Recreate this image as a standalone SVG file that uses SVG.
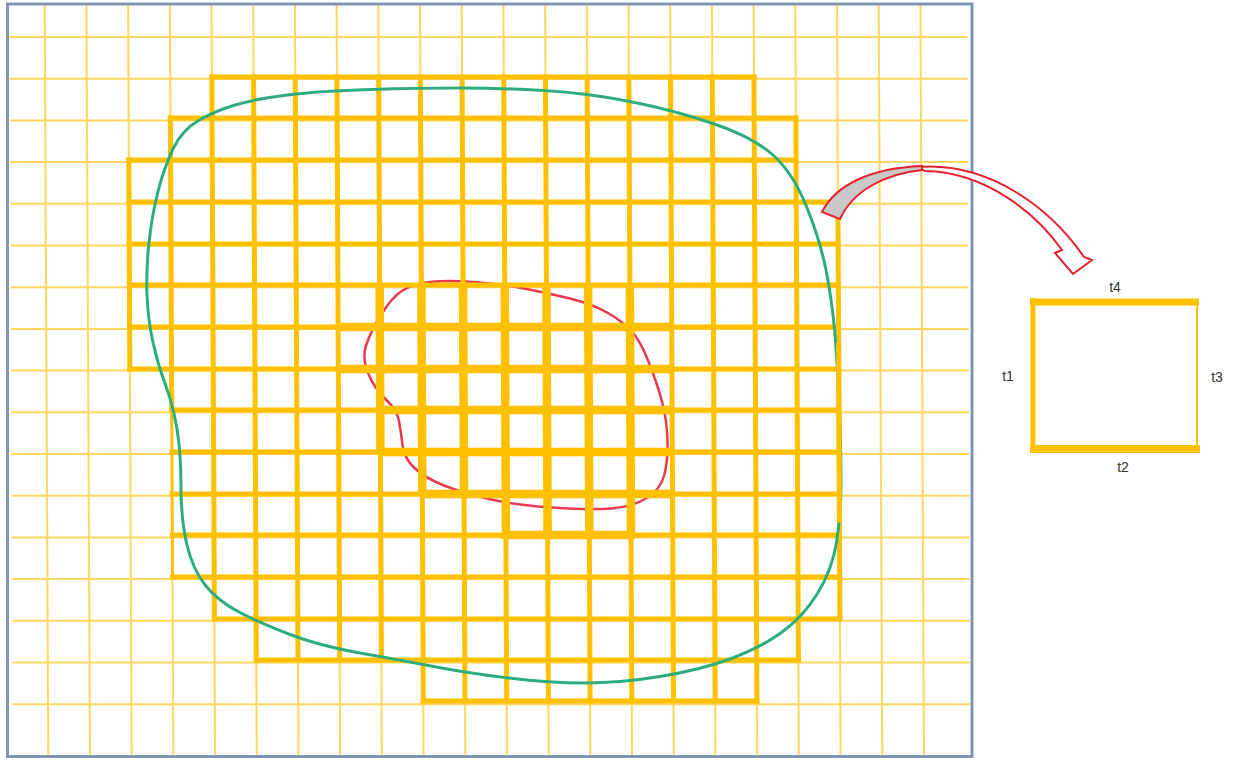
<svg xmlns="http://www.w3.org/2000/svg" width="1238" height="761" viewBox="0 0 1238 761">
<style>
.thin{stroke:#FFD75E;stroke-width:2;fill:none}
.thick{stroke:#FFC000;stroke-width:5;fill:none;stroke-linecap:square}
.med{stroke:#FFC000;stroke-width:3;fill:none}
.xthick{stroke:#FFC000;stroke-width:8.5;fill:none;stroke-linecap:butt}
.lbl{font-family:"Liberation Sans",Arial,sans-serif;font-size:14px;fill:#333333}
</style>
<rect x="0" y="0" width="1238" height="761" fill="#FFFFFF"/>
<g id="thin-grid" transform="translate(-1.8,0) skewX(0.27)">
<path class="thin" d="M46.5,5V755 M88.2,5V755 M129.9,5V755 M171.6,5V755 M213.3,5V755 M255,5V755 M296.7,5V755 M338.4,5V755 M380.1,5V755 M421.8,5V755 M463.5,5V755 M505.2,5V755 M546.9,5V755 M588.6,5V755 M630.3,5V755 M672,5V755 M713.7,5V755 M755.4,5V755 M797.1,5V755 M838.8,5V755 M880.5,5V755 M922.2,5V755"/>
<path class="thin" d="M11,37H969 M11,78.7H969 M11,120.4H969 M11,162.1H969 M11,203.8H969 M11,245.5H969 M11,287.2H969 M11,328.9H969 M11,370.6H969 M11,412.3H969 M11,454H969 M11,495.7H969 M11,537.4H969 M11,579.1H969 M11,620.8H969 M11,662.5H969 M11,704.2H969"/>
</g>
<g id="inner-boundary">
<path d="M473.5,282 Q500,284 524,288.5 Q548,293 570,298.5 Q592,304 607,312.5 Q622,321 631,330.5 Q640,340 648.5,361.5 Q657,383 662,401.5 Q667,420 667.5,441 Q668,462 664,476 Q660,490 646,498.5 Q632,507 611,508.5 Q590,510 552.5,507.5 Q515,505 489,499 Q463,493 444,485.5 Q425,478 414.5,468 Q404,458 402.5,445 Q401,432 399,421 Q397,410 385.5,399 Q374,388 368,373 Q362,358 366,345.5 Q370,333 381,315 Q392,297 402.5,290.5 Q413,284 430,282 Q447,280 473.5,282 Z" fill="none" stroke="#E83A4E" stroke-width="2.5"/>
</g>
<g id="thick-grid" transform="translate(-1.8,0) skewX(0.27)">
<path class="thick" d="M129.9,160V369 M171.6,118V410 M213.3,77V619 M255,77V660 M296.7,77V660 M338.4,77V660 M380.1,77V660 M421.8,77V701 M463.5,77V701 M505.2,77V701 M546.9,77V701 M588.6,77V701 M630.3,77V701 M672,77V701 M713.7,77V701 M755.4,77V701 M797.1,118V660 M838.8,202V619"/>
<path class="med" d="M171.6,410V577"/>
<path class="thick" d="M213.3,77H755.4 M171.6,118H797.1 M129.9,160H797.1 M129.9,202H838.8 M129.9,244H838.8 M129.9,285H838.8 M129.9,327H838.8 M129.9,369H838.8 M171.6,410H838.8 M171.6,452H838.8 M171.6,494H838.8 M171.6,535H838.8 M171.6,577H838.8 M213.3,619H838.8 M255,660H797.1 M421.8,701H755.4"/>
<path class="xthick" d="M340,327H672 M340,369H672 M380.1,410H672 M380.1,452H672 M421.8,494H672 M505.2,535H632"/>
<path class="xthick" d="M380.1,283V454 M421.8,283V496 M463.5,283V496 M505.2,283V539 M546.9,283V539 M588.6,283V539 M630.3,283V539"/>
</g>
<g id="outer-boundary">
<path d="M460,88 Q500,88 543.5,90.5 Q587,93 630,101.5 Q673,110 713,123.5 Q753,137 773,155 Q793,173 806.5,206.5 Q820,240 826,270 Q832,300 835,335 Q838,370 839.5,410 Q841,450 841,482.5 Q841,515 836.5,542.5 Q832,570 817.5,593.5 Q803,617 781.5,632.5 Q760,648 730,659 Q700,670 660,676.5 Q620,683 585,683 Q550,683 508.5,678 Q467,673 433.5,666.5 Q400,660 360,653 Q320,646 290,634.5 Q260,623 239,612 Q218,601 205.5,585.5 Q193,570 187,545 Q181,520 181,486.5 Q181,453 177,429 Q173,405 165.5,385 Q158,365 153,342.5 Q148,320 147,295 Q146,270 149,242.5 Q152,215 158,191.5 Q164,168 173,149 Q182,130 198.5,120.5 Q215,111 235,105 Q255,99 287.5,95 Q320,91 370,89.5 Q420,88 460,88 Z" fill="none" stroke="#2EAD7C" stroke-width="3"/>
</g>
<g id="thick-overlay" transform="translate(-1.8,0) skewX(0.27)">
<path class="thick" d="M838.8,345V520"/>
</g>
<g id="frame">
<rect x="7.5" y="4" width="964.5" height="752.5" fill="none" stroke="#7F95B5" stroke-width="3"/>
</g>
<g id="connectors">
<path d="M918,167 C990,162 1050,208 1084,257 L1092,260 L1073,274 L1055,253 L1062,250 C1035,212 985,172 925,171 Z" fill="#FFFFFF" stroke="#E8202A" stroke-width="2" stroke-linejoin="miter"/>
<path d="M822,212 C836,184 872,168 922,166 L922,170 C884,174 853,191 840,219 Z" fill="#C8C8C8" stroke="#E8202A" stroke-width="2"/>
</g>
<g id="cell-node">
<path d="M1030,302H1199" stroke="#FFC000" stroke-width="7"/>
<path d="M1030,449H1200" stroke="#FFC000" stroke-width="8"/>
<path d="M1033,298V453" stroke="#FFC000" stroke-width="5"/>
<path d="M1197,300V450" stroke="#FFC000" stroke-width="2"/>
<text class="lbl" x="1115" y="292" text-anchor="middle">t4</text>
<text class="lbl" x="1008" y="381" text-anchor="middle">t1</text>
<text class="lbl" x="1217" y="382" text-anchor="middle">t3</text>
<text class="lbl" x="1123" y="472" text-anchor="middle">t2</text>
</g>
</svg>
